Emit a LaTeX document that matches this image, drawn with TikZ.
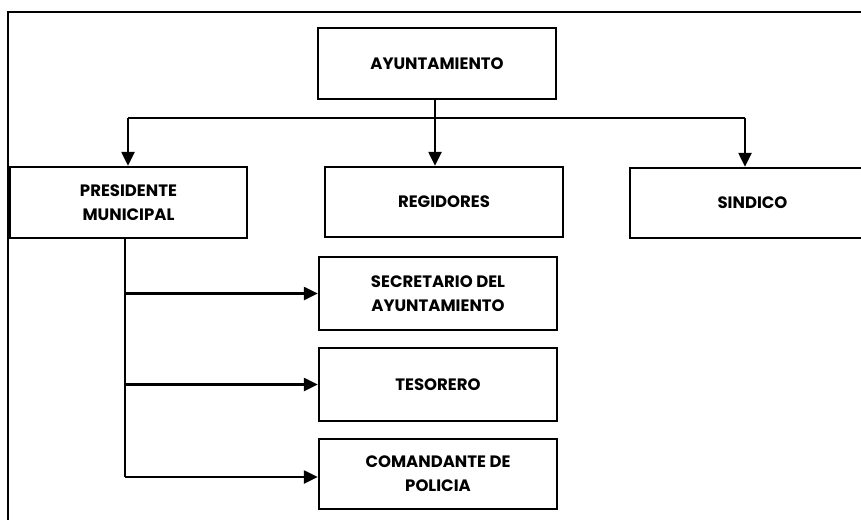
\documentclass[tikz,border=0pt]{standalone}
\usepackage{fontspec}
\setmainfont{Poppins}
\usetikzlibrary{arrows.meta}
\begin{document}
\begin{tikzpicture}[x=1pt,y=-1pt,
  box/.style={draw,line width=2.4pt,minimum width=238pt,minimum height=71pt,inner sep=0pt,align=center,
    font=\fontsize{16.5}{24}\selectfont\bfseries},
  conn/.style={line width=2.4pt,-{Triangle[length=14pt,width=13pt]}},
  plain/.style={line width=2.4pt}]
\useasboundingbox (0,0) rectangle (861,519);
\clip (0,0) rectangle (861,519);
\draw[plain] (8,530) -- (8,12) -- (870,12);
\node[box] (ayu) at (437,63.5) {AYUNTAMIENTO};
\node[box,minimum width=237pt] (pres) at (128.5,202.5) {PRESIDENTE\\MUNICIPAL};
\node[box,minimum height=70pt] (reg) at (444,202) {REGIDORES};
\node[box,minimum width=245pt,minimum height=70pt] (sind) at (752.5,203) {SINDICO};
\node[box,minimum height=73pt] (sec) at (438,293.5) {SECRETARIO DEL\\AYUNTAMIENTO};
\node[box,minimum height=73pt] (tes) at (438,384.5) {TESORERO};
\node[box,minimum height=70pt] (com) at (438,474) {COMANDANTE DE\\POLICIA};
\coordinate (mid) at (435,118);
\coordinate (hl) at (128,118);
\coordinate (hr) at (745,118);
\draw[conn] (mid |- ayu.south) -- (mid |- reg.north);
\draw[plain] (hl) -- (hr);
\draw[conn] (hl) -- (hl |- pres.north);
\draw[conn] (hr) -- (hr |- sind.north);
\coordinate (v) at (125,238);
\coordinate (vb) at (125,477);
\draw[plain] (v |- pres.south) -- (vb);
\draw[conn] (v |- sec.west) -- (sec.west);
\draw[conn] (v |- tes.west) -- (tes.west);
\draw[conn] (vb) -- (vb -| com.west);
\end{tikzpicture}
\end{document}
